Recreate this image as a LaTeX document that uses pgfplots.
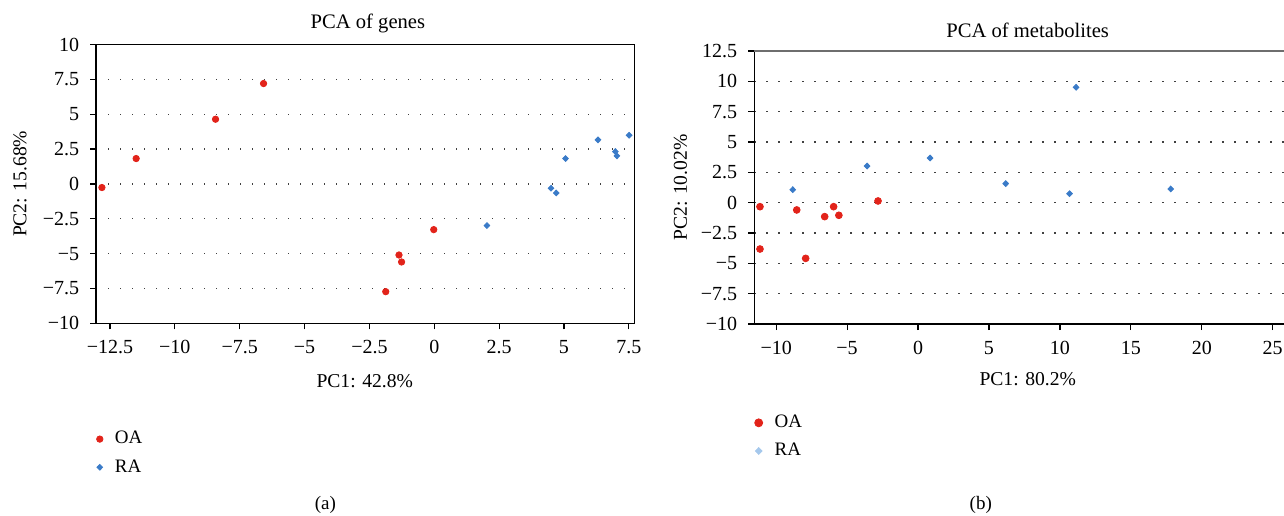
\documentclass[border=0pt]{standalone}
\usepackage{fontspec}
\setmainfont{Liberation Serif}
\usepackage{pgfplots}
\pgfplotsset{compat=1.18}
\definecolor{oared}{HTML}{E2231A}
\definecolor{rablue}{HTML}{3A7BC8}
\definecolor{ralight}{HTML}{A5C8EC}
\definecolor{topgray}{HTML}{6E6E6E}

\pgfplotsset{
  pcastyle/.style={
    scale only axis,
    tick align=outside,
    tick pos=left,
    major tick length=3pt,
    every tick/.style={black, line width=0.6pt},
    axis line style={black, line width=0.8pt},
    ymajorgrids,
    grid style={black!75, line width=0.6pt, dash pattern=on 0.6pt off 5.4pt},
    ticklabel style={font=\fontsize{10}{12}\selectfont},
    xticklabel style={yshift=-2pt},
    yticklabel style={xshift=-2pt},
    title style={font=\fontsize{10.3}{12}\selectfont, anchor=center},
    label style={font=\fontsize{9.8}{12}\selectfont},
    legend cell align=left,
    legend style={draw=none, fill=none, font=\fontsize{9.5}{11}\selectfont,
      anchor=north west, inner sep=0pt, row sep=6.3pt, column sep=6pt,
      nodes={inner sep=0pt}},
    legend image code/.code={\draw[##1] plot coordinates {(0pt,0pt)};},
  }
}

\begin{document}
\begin{tikzpicture}[x=1pt,y=1pt]
\useasboundingbox (0,0) rectangle (642,257.5);

% ---------------- (a) PCA of genes ----------------
\begin{axis}[pcastyle,
  at={(48.1pt,95.85pt)}, anchor=south west,
  width=269.05pt, height=139.4pt,
  xmin=-13.03, xmax=7.71, ymin=-10, ymax=10,
  xtick={-12.5,-10,-7.5,-5,-2.5,0,2.5,5,7.5},
  xticklabels={−12.5,−10,−7.5,−5,−2.5,0,2.5,5,7.5},
  ytick={-10,-7.5,-5,-2.5,0,2.5,5,7.5,10},
  yticklabels={−10,−7.5,−5,−2.5,0,2.5,5,7.5,10},
  title={PCA of genes},
  title style={at={(axis description cs:0.505,1)}, yshift=4.75pt},
  xlabel={PC1: 42.8\%},
  xlabel style={at={(axis description cs:0.499,-0.207)}, anchor=center},
  ylabel={PC2: 15.68\%},
  ylabel style={at={(axis description cs:-0.1416,0.5)}, anchor=center},
  legend style={at={(axis description cs:0.0,-0.386)}},
]
\addplot[only marks, mark=*, mark size=1.6pt, color=oared] coordinates {
(-12.81,-0.26) (-11.49,1.82) (-8.43,4.64) (-6.58,7.20)
(-0.02,-3.28) (-1.36,-5.10) (-1.26,-5.60) (-1.87,-7.73)
};
\addlegendentry{OA}
\addplot[only marks, mark=diamond*, mark size=1.45pt, mark options={xscale=1.3}, color=rablue] coordinates {
(2.03,-2.99) (4.50,-0.31) (4.70,-0.65) (5.06,1.82)
(6.31,3.16) (6.98,2.32) (7.04,2.01) (7.51,3.49)
};
\addlegendentry{RA}
\end{axis}

% ---------------- (b) PCA of metabolites ----------------
\begin{axis}[pcastyle,
  at={(377.15pt,95.5pt)}, anchor=south west,
  width=273.4pt, height=136.5pt,
  xmin=-11.54, xmax=27, ymin=-10, ymax=12.5,
  axis x line*=bottom, axis y line*=left,
  xtick={-10,-5,0,5,10,15,20,25},
  xticklabels={−10,−5,0,5,10,15,20,25},
  ytick={-10,-7.5,-5,-2.5,0,2.5,5,7.5,10,12.5},
  yticklabels={−10,−7.5,−5,−2.5,0,2.5,5,7.5,10,12.5},
  title={PCA of metabolites},
  title style={at={(axis description cs:0.5,1)}, yshift=4.5pt},
  xlabel={PC1: 80.2\%},
  xlabel style={at={(axis description cs:0.5,-0.2015)}, anchor=center},
  ylabel={PC2: 10.02\%},
  ylabel style={at={(axis description cs:-0.135,0.5)}, anchor=center},
  legend style={at={(axis description cs:0.0,-0.332)}},
  extra description/.code={
    \draw[topgray, line width=1.2pt] (axis description cs:0,1) -- (axis description cs:1,1);
  },
]
\addlegendimage{only marks, mark=*, mark size=2pt, color=oared}
\addlegendentry{OA}
\addlegendimage{only marks, mark=diamond*, mark size=1.7pt, mark options={xscale=1.3}, color=ralight}
\addlegendentry{RA}
\addplot[only marks, mark=*, mark size=1.7pt, color=oared, forget plot] coordinates {
(-11.14,-0.33) (-11.14,-3.82) (-8.55,-0.60) (-7.92,-4.59)
(-6.58,-1.15) (-5.95,-0.33) (-5.58,-1.04) (-2.82,0.14)
};
\addplot[only marks, mark=diamond*, mark size=1.45pt, mark options={xscale=1.3}, color=rablue, forget plot] coordinates {
(-8.83,1.07) (-3.59,3.02) (0.85,3.68) (6.18,1.57)
(10.68,0.74) (11.14,9.51) (17.81,1.13)
};
\end{axis}

\node[font=\fontsize{9.5}{11}\selectfont] at (162.7,5) {(a)};
\node[font=\fontsize{9.5}{11}\selectfont] at (490.4,5) {(b)};
\end{tikzpicture}
\end{document}
